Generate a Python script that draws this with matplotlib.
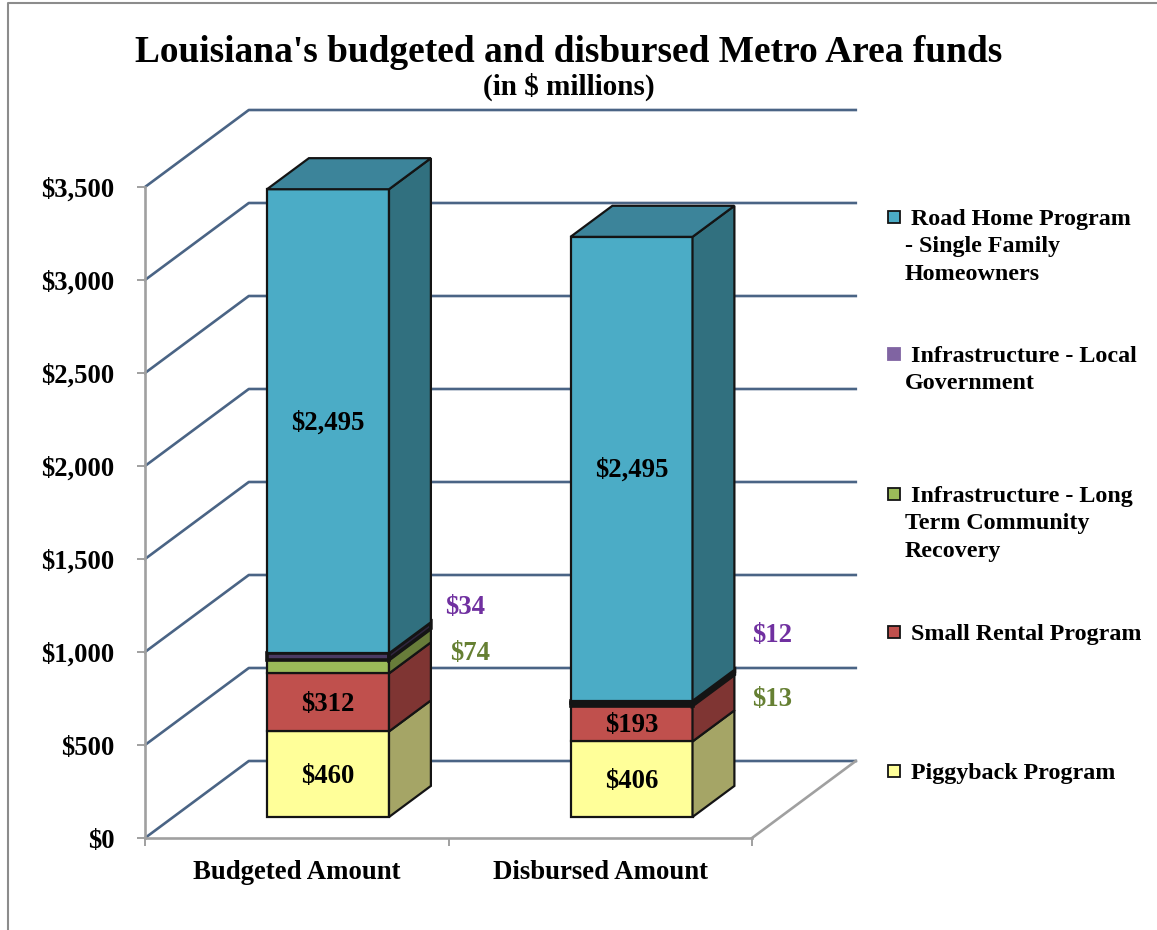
import matplotlib
matplotlib.use("Agg")
import matplotlib.pyplot as plt
from matplotlib.lines import Line2D
from matplotlib.patches import Rectangle

categories = ["Budgeted Amount", "Disbursed Amount"]
piggyback = [460, 406]
small_rental = [312, 193]
long_term = [74, 13]
local_gov = [34, 12]
road_home = [2495, 2495]
y_ticks = [0, 500, 1000, 1500, 2000, 2500, 3000, 3500]
y_tick_labels = ["$0", "$500", "$1,000", "$1,500", "$2,000", "$2,500", "$3,000", "$3,500"]

W = 1157
H = 930

# front, side, top colours, bottom of the stack first
series = [piggyback, small_rental, long_term, local_gov, road_home]
fronts = ["#FFFF99", "#C0504D", "#9BBB59", "#4A3A63", "#4BACC6"]
sides = ["#A5A566", "#7F3533", "#687C3A", "#30263F", "#31707F"]
top_color = "#3C849A"
edge = "#141414"

# depth of the chart box and of the bars, in data units
wall_dx, wall_dy = 0.342, 414
front_dx, front_dy = 0.103, 113
bar_dx, bar_dy = 0.138, 167
bar_w = 0.402

legend_names = [
    ["Road Home Program", "- Single Family", "Homeowners"],
    ["Infrastructure - Local", "Government"],
    ["Infrastructure - Long", "Term Community", "Recovery"],
    ["Small Rental Program"],
    ["Piggyback Program"],
]
legend_colors = ["#4BACC6", "#8064A2", "#9BBB59", "#C0504D", "#FFFF99"]
legend_y = [217, 354, 494, 632, 771]

plt.rcParams["font.family"] = ["Liberation Serif", "DejaVu Serif"]
plt.rcParams["font.weight"] = "bold"

fig = plt.figure(figsize=(W / 100, H / 100), dpi=100)
ax = fig.add_axes([145 / W, (H - 838) / H, 607 / W, 651 / H])
ax.set_xlim(0, 2)
ax.set_ylim(0, 3500)
ax.patch.set_visible(False)


def fx(px):
    return px / W


def fy(px):
    return 1 - px / H


# back wall grid lines, and the floor edge
for v in y_ticks:
    ax.plot([0, wall_dx, 2 + wall_dx], [v, v + wall_dy, v + wall_dy],
            color="#4A6485", lw=1.9, clip_on=False, zorder=1)
ax.plot([2, 2 + wall_dx], [0, wall_dy], color="#A0A0A0", lw=1.9, clip_on=False, zorder=1)

# stacked boxes
for i in range(len(categories)):
    left = i + front_dx + (1 - bar_w) / 2
    right = left + bar_w
    bottom = front_dy
    for vals, front, side in zip(series, fronts, sides):
        top = bottom + vals[i]
        # thin segments come out nearly all edge in the picture
        lw = 2.6 if vals[i] < 50 else 1.6
        ax.bar(left + bar_w / 2, vals[i], bar_w, bottom=bottom, color=front, edgecolor=edge,
               lw=lw, clip_on=False, zorder=3)
        ax.fill([right, right + bar_dx, right + bar_dx, right],
                [bottom, bottom + bar_dy, top + bar_dy, top],
                facecolor=side, edgecolor=edge, lw=lw, clip_on=False, zorder=3)
        bottom = top
    ax.fill([left, left + bar_dx, right + bar_dx, right],
            [bottom, bottom + bar_dy, bottom + bar_dy, bottom],
            facecolor=top_color, edgecolor=edge, lw=1.6, clip_on=False, zorder=3)

    # value labels on the fronts
    mid = left + bar_w / 2
    base = front_dy
    for vals in [piggyback, small_rental]:
        ax.text(mid, base + vals[i] / 2 - 12, "$%d" % vals[i], ha="center", va="center",
                fontsize=19.3, color="black", zorder=4)
        base += vals[i]
    base += long_term[i] + local_gov[i]
    ax.text(mid, base + 0.5 * road_home[i] - 8, "$2,495", ha="center", va="center",
            fontsize=19.3, color="black", zorder=4)

# the two thin segments are labelled beside the bars
ax.text(1.055, 1241, "$%d" % local_gov[0], color="#7030A0", fontsize=19.3, ha="center", va="center", clip_on=False)
ax.text(1.071, 993, "$%d" % long_term[0], color="#668033", fontsize=19.3, ha="center", va="center", clip_on=False)
ax.text(2.065, 1090, "$%d" % local_gov[1], color="#7030A0", fontsize=19.3, ha="center", va="center", clip_on=False)
ax.text(2.065, 746, "$%d" % long_term[1], color="#668033", fontsize=19.3, ha="center", va="center", clip_on=False)

# axes
for s in ["top", "right"]:
    ax.spines[s].set_visible(False)
for s in ["left", "bottom"]:
    ax.spines[s].set_color("#A0A0A0")
    ax.spines[s].set_linewidth(1.9)
ax.set_yticks(y_ticks)
ax.set_yticklabels(y_tick_labels, fontsize=19.2)
ax.tick_params(axis="y", length=6, width=1.4, color="#A0A0A0", pad=16)
ax.set_xticks([0, 1, 2])
ax.set_xticklabels([])
ax.tick_params(axis="x", which="major", length=6, width=1.4, color="#A0A0A0")
ax.set_xticks([0.5, 1.5], minor=True)
ax.set_xticklabels(categories, minor=True, fontsize=19.3)
ax.tick_params(axis="x", which="minor", length=0, pad=15.7)

fig.text(fx(569), fy(53), "Louisiana's budgeted and disbursed Metro Area funds",
         fontsize=26.9, ha="center", va="center")
fig.text(fx(569), fy(87), "(in $ millions)", fontsize=21, ha="center", va="center")

# legend is laid out by hand, one line of text at a time
for name, color, y in zip(legend_names, legend_colors, legend_y):
    has_edge = color != "#8064A2"
    fig.add_artist(Rectangle((fx(888), fy(y + 6)), 12 / W, 12 / H, transform=fig.transFigure,
                             facecolor=color, edgecolor=edge if has_edge else color, lw=1.3))
    for n, line in enumerate(name):
        fig.text(fx(911 if n == 0 else 905), fy(y + 2 + n * 27.5), line, fontsize=17.3, ha="left", va="center")

# frame of the page the chart was cut from
fig.add_artist(Line2D([fx(8), fx(8), 1], [0, fy(3), fy(3)], color="#8C8C8C", lw=1.5))

fig.savefig("out.png", dpi=100)
